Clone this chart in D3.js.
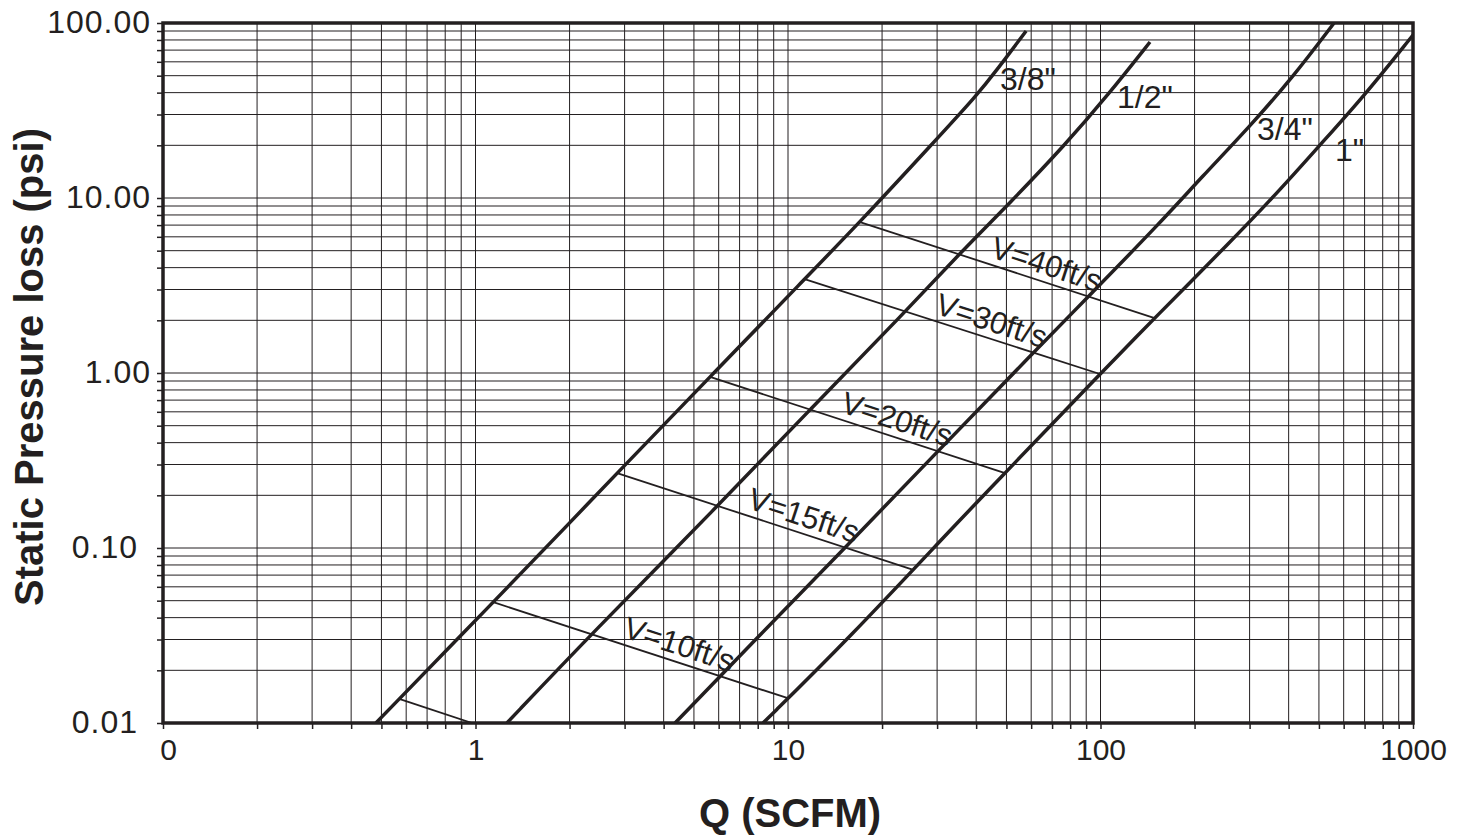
<!DOCTYPE html>
<html>
<head>
<meta charset="utf-8">
<script src="https://cdn.jsdelivr.net/npm/d3@7"></script>
<style>
  body { margin: 0; background: #fff; }
  svg { display: block; font-family: "Liberation Sans", Arial, sans-serif; }
  .xaxis .tick text { font-size: 30px; fill: #231f20; }
  .yaxis .tick text { font-size: 32px; letter-spacing: 1px; fill: #231f20; }
  .title { font-size: 40px; font-weight: bold; fill: #231f20; }
  .curveLabel { font-size: 32px; fill: #231f20; }
  .velLabel { font-size: 31px; fill: #231f20; }
</style>
</head>
<body>
<svg width="1468" height="840"></svg>
<script>
// pipe size curves: Q (SCFM) vs static pressure loss (psi)
const curveNames = ['3/8"', '1/2"', '3/4"', '1"'];
const q38 = [0.48, 1.14, 2.0, 2.84, 5.63, 11.3, 17.0, 29.1, 40.3, 46.6, 57.8];
const p38 = [0.01, 0.049, 0.139, 0.268, 0.95, 3.44, 7.29, 20.6, 38.8, 53.9, 90.0];
const q12 = [1.26, 2.33, 5.93, 11.8, 23.7, 35.5, 51.3, 77.0, 105.7, 144];
const p12 = [0.01, 0.0318, 0.172, 0.623, 2.23, 4.85, 9.36, 20.1, 38.8, 77.9];
const q34 = [4.35, 7.84, 15.2, 30.2, 60.8, 91.2, 155, 211, 299, 413, 559];
const p34 = [0.01, 0.0298, 0.1, 0.358, 1.30, 2.72, 7.2, 13.2, 25.4, 49.1, 100];
const q1 = [8.32, 15.5, 35.5, 49.5, 99.6, 149, 264, 375, 504, 702, 1000];
const p1 = [0.01, 0.0298, 0.145, 0.268, 0.987, 2.06, 5.75, 11.1, 20.1, 38.8, 85.4];

// constant velocity lines (start on 3/8", end on 1" or at the frame)
const velLabels = ["", "V=10ft/s", "V=15ft/s", "V=20ft/s", "V=30ft/s", "V=40ft/s"];
const velQ0 = [0.573, 1.14, 2.84, 5.63, 11.3, 17.0];
const velP0 = [0.0137, 0.049, 0.268, 0.95, 3.44, 7.29];
const velQ1 = [0.975, 9.93, 24.9, 49.5, 99.6, 149];
const velP1 = [0.01, 0.0139, 0.0755, 0.268, 0.987, 2.06];

// axis ticks
const xTickVals = [0.1, 1, 10, 100, 1000];
const xTickText = ["0", "1", "10", "100", "1000"];
const yTickVals = [0.01, 0.1, 1, 10, 100];
const yTickText = ["0.01", "0.10", "1.00", "10.00", "100.00"];

const ink = "#231f20";
const svg = d3.select("svg"),
      margin = {top: 23, right: 55, bottom: 117, left: 163},
      width = +svg.attr("width") - margin.left - margin.right,
      height = +svg.attr("height") - margin.top - margin.bottom,
      g = svg.append("g").attr("transform", `translate(${margin.left},${margin.top})`);

const x = d3.scaleLog().domain([0.1, 1000]).range([0, width]);
const y = d3.scaleLog().domain([0.01, 100]).range([height, 0]);

function minors(lo, hi) {
  const out = [];
  for (let e = Math.log10(lo); e < Math.log10(hi); e++) {
    for (let k = 1; k < 10; k++) out.push(k * Math.pow(10, e));
  }
  out.push(hi);
  return out;
}
const xMinor = minors(0.1, 1000);
const yMinor = minors(0.01, 100);

// grid
g.append("g").selectAll("line").data(xMinor).enter().append("line")
  .attr("x1", d => x(d)).attr("x2", d => x(d))
  .attr("y1", 0).attr("y2", height)
  .attr("stroke", ink).attr("stroke-width", 1);
g.append("g").selectAll("line").data(yMinor).enter().append("line")
  .attr("y1", d => y(d)).attr("y2", d => y(d))
  .attr("x1", 0).attr("x2", width)
  .attr("stroke", ink).attr("stroke-width", 1);

// axes with ticks at every grid value
const near = (a, b) => Math.abs(a - b) < 1e-9 * Math.max(1, b);
const fmtX = d => { const i = xTickVals.findIndex(v => near(d, v)); return i < 0 ? "" : xTickText[i]; };
const fmtY = d => { const i = yTickVals.findIndex(v => near(d, v)); return i < 0 ? "" : yTickText[i]; };

const xAxis = g.append("g").attr("class", "xaxis").attr("transform", `translate(0,${height})`)
  .call(d3.axisBottom(x).tickValues(xMinor).tickFormat(fmtX).tickSize(6).tickPadding(10));
const yAxis = g.append("g").attr("class", "yaxis")
  .call(d3.axisLeft(y).tickValues(yMinor).tickFormat(fmtY).tickSize(6).tickPadding(6));
[xAxis, yAxis].forEach(a => {
  a.select(".domain").remove();
  a.selectAll(".tick line").attr("stroke", ink).attr("stroke-width", 1.5);
  a.selectAll(".tick text").attr("font-family", null).attr("font-size", null);
});
xAxis.selectAll(".tick text").filter(d => near(d, 0.1)).attr("dx", 5);
yAxis.selectAll(".tick text").attr("dy", "0.3em");
yAxis.selectAll(".tick text").filter(d => d < 0.5).attr("dx", -13);

// clip for curves
svg.append("defs").append("clipPath").attr("id", "plotClip")
  .append("rect").attr("width", width).attr("height", height);
const plot = g.append("g").attr("clip-path", "url(#plotClip)");

// velocity lines
velLabels.forEach((lab, i) => {
  const x0 = x(velQ0[i]), y0 = y(velP0[i]), x1 = x(velQ1[i]), y1 = y(velP1[i]);
  plot.append("line")
    .attr("x1", x0).attr("y1", y0).attr("x2", x1).attr("y2", y1)
    .attr("stroke", ink).attr("stroke-width", 1.8);
  if (lab) {
    const f = 0.615,
          cx = x0 + (x1 - x0) * f,
          cy = y0 + (y1 - y0) * f,
          ang = Math.atan2(y1 - y0, x1 - x0) * 180 / Math.PI;
    g.append("text")
      .attr("class", "velLabel")
      .attr("transform", `translate(${cx},${cy}) rotate(${ang})`)
      .attr("text-anchor", "middle")
      .attr("dy", -7)
      .text(lab);
  }
});

// pipe curves
const curves = [[q38, p38], [q12, p12], [q34, p34], [q1, p1]];
const line = d3.line()
  .x(d => x(d[0])).y(d => y(d[1]))
  .curve(d3.curveBasis);
curves.forEach(([qs, ps]) => {
  plot.append("path")
    .datum(qs.map((q, i) => [q, ps[i]]))
    .attr("d", line)
    .attr("fill", "none")
    .attr("stroke", ink)
    .attr("stroke-width", 3.5)
    .attr("stroke-linejoin", "round");
});

// curve labels
const labelPos = [[1000 - 163, 90 - 23], [1117 - 163, 108 - 23], [1257 - 163, 140 - 23], [1335 - 163, 161 - 23]];
curveNames.forEach((n, i) => {
  g.append("text")
    .attr("class", "curveLabel")
    .attr("x", labelPos[i][0])
    .attr("y", labelPos[i][1])
    .text(n);
});

// frame
g.append("rect")
  .attr("width", width).attr("height", height)
  .attr("fill", "none").attr("stroke", ink).attr("stroke-width", 3.5);

// axis titles
svg.append("text")
  .attr("class", "title")
  .attr("x", margin.left + width / 2 + 2)
  .attr("y", 827)
  .attr("text-anchor", "middle")
  .text("Q (SCFM)");
svg.append("text")
  .attr("class", "title")
  .attr("transform", `translate(43,${margin.top + height / 2 - 6}) rotate(-90)`)
  .attr("text-anchor", "middle")
  .text("Static Pressure loss (psi)");
</script>
</body>
</html>
